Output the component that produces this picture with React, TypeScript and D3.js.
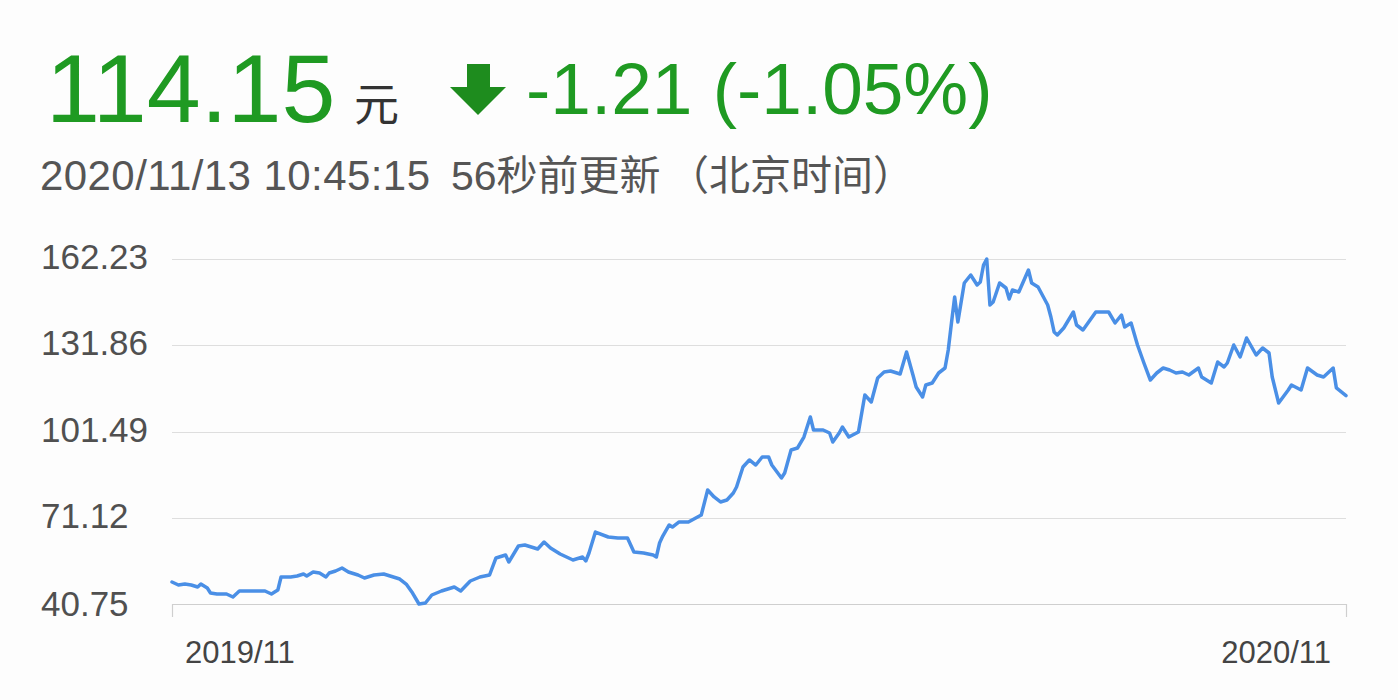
import React, { useEffect, useRef } from "react";
import * as d3 from "d3";

// one year of closing prices, sampled off the chart
const startDate = new Date(2019, 10, 13);
const endDate = new Date(2020, 10, 13);

const dayOffsets = [
  0, 2, 4, 6, 8, 9, 11, 12, 14, 17,
  19, 21, 25, 29, 31, 33, 34, 37, 39, 41,
  42, 44, 46, 48, 49, 51, 53, 55, 58, 60,
  63, 66, 69, 71, 73, 75, 77, 79, 81, 84,
  88, 90, 93, 96, 99, 101, 104, 105, 108, 110,
  112, 114, 116, 118, 121, 125, 128, 129, 130, 132,
  136, 139, 142, 144, 147, 150, 151, 152, 153, 155,
  156, 158, 161, 165, 167, 169, 171, 173, 175, 176,
  178, 180, 182, 184, 186, 187, 190, 191, 193, 195,
  197, 199, 200, 203, 205, 206, 208, 209, 211, 214,
  216, 218, 220, 222, 224, 227, 229, 231, 232, 234,
  235, 237, 239, 241, 242, 243, 244, 245, 247, 249,
  251, 252, 253, 254, 255, 256, 258, 260, 261, 262,
  264, 267, 268, 270, 273, 274, 275, 276, 278, 281,
  282, 284, 288, 292, 294, 296, 297, 299, 301, 303,
  305, 307, 309, 311, 313, 315, 317, 320, 321, 324,
  326, 328, 329, 331, 333, 335, 338, 340, 342, 343,
  345, 348, 349, 352, 354, 357, 359, 362, 363, 366,
];

const prices = [
  48.5, 47.44, 47.79, 47.44, 46.74, 47.79, 46.38, 44.62, 44.27, 44.27,
  43.21, 45.33, 45.33, 45.33, 44.27, 45.68, 50.26, 50.26, 50.61, 51.31,
  50.61, 52.02, 51.67, 50.26, 51.67, 52.37, 53.43, 52.02, 50.96, 49.91,
  50.96, 51.31, 50.26, 49.55, 47.79, 44.62, 40.75, 41.1, 43.92, 45.33,
  46.74, 45.33, 48.85, 50.26, 50.96, 56.95, 58.0, 55.54, 61.17, 61.53,
  60.82, 60.12, 62.58, 60.47, 58.36, 56.24, 57.3, 55.89, 58.71, 66.1,
  64.34, 63.99, 63.99, 59.06, 58.71, 58.0, 57.3, 62.23, 64.69, 68.57,
  67.86, 69.62, 69.62, 72.09, 80.89, 78.43, 76.67, 77.37, 79.84, 81.95,
  88.99, 91.46, 89.69, 92.51, 92.51, 89.69, 85.12, 86.88, 94.98, 95.68,
  99.55, 106.6, 102.02, 102.02, 100.96, 97.79, 100.96, 103.08, 99.55, 101.31,
  114.34, 111.88, 120.33, 122.44, 122.79, 121.74, 129.48, 121.39, 117.16, 113.64,
  117.86, 118.57, 122.09, 123.85, 130.19, 139.7, 148.85, 140.05, 153.78, 156.6,
  153.08, 154.13, 160.12, 162.23, 146.03, 147.09, 153.78, 152.02, 148.15, 151.32,
  150.61, 158.36, 153.78, 152.37, 146.03, 141.81, 136.53, 135.47, 137.94, 143.57,
  138.99, 137.23, 143.57, 143.57, 139.7, 142.51, 138.29, 139.7, 131.95, 125.61,
  119.62, 122.09, 123.85, 123.15, 122.09, 122.44, 121.39, 123.85, 120.68, 118.57,
  125.96, 124.2, 125.61, 131.95, 127.72, 134.41, 128.43, 130.89, 129.13, 120.68,
  111.53, 116.1, 117.86, 116.1, 123.85, 121.39, 120.68, 123.85, 116.81, 114.15,
];

const yTicks = [40.75, 71.12, 101.49, 131.86, 162.23];
const xTickLabels = ["2019/11", "2020/11"];

const lastPrice = "114.15";
const currency = "元";
const change = "-1.21 (-1.05%)";
const timestamp = "2020/11/13 10:45:15";
const updated = "56秒前更新";
const timezone = "（北京时间）";

const FONT = "'Liberation Sans', Arial, 'Noto Sans CJK SC', sans-serif";
const GREEN = "#1f9a22";

const App: React.FC = () => {
  const svgRef = useRef<SVGSVGElement | null>(null);

  useEffect(() => {
    const width = 1398;
    const height = 700;
    const marginTop = 259;
    const marginRight = 52;
    const marginBottom = 96;
    const marginLeft = 172;

    const svg = d3.select(svgRef.current);
    svg.selectAll("*").remove();
    svg
      .attr("width", width)
      .attr("height", height)
      .attr("viewBox", [0, 0, width, height])
      .style("font-family", FONT);

    svg.append("rect").attr("width", width).attr("height", height).attr("fill", "#fdfdfd");

    const data = dayOffsets.map((d, i) => ({
      date: d3.timeDay.offset(startDate, d),
      value: prices[i],
    }));

    const x = d3
      .scaleTime()
      .domain([startDate, endDate])
      .range([marginLeft, width - marginRight]);

    const y = d3
      .scaleLinear()
      .domain([yTicks[0], yTicks[yTicks.length - 1]])
      .range([height - marginBottom, marginTop]);

    // header
    svg
      .append("text")
      .attr("x", 46)
      .attr("y", 122)
      .attr("fill", GREEN)
      .attr("font-size", 97)
      .text(lastPrice);
    svg
      .append("text")
      .attr("x", 354)
      .attr("y", 121)
      .attr("fill", "#333")
      .attr("font-size", 45)
      .text(currency);
    svg
      .append("path")
      .attr("d", "M467,64 H490 V87 H506 L478,115 L450,87 H467 Z")
      .attr("fill", "#1e8c1e");
    svg
      .append("text")
      .attr("x", 526)
      .attr("y", 114)
      .attr("fill", GREEN)
      .attr("font-size", 73)
      .text(change);

    svg
      .append("text")
      .attr("x", 40)
      .attr("y", 190)
      .attr("fill", "#555")
      .attr("font-size", 42)
      .attr("textLength", 390)
      .text(timestamp);
    svg
      .append("text")
      .attr("x", 451)
      .attr("y", 190)
      .attr("fill", "#555")
      .attr("font-size", 41)
      .text(updated);
    svg
      .append("text")
      .attr("x", 668)
      .attr("y", 190)
      .attr("fill", "#555")
      .attr("font-size", 41)
      .text(timezone);

    // grid + y labels
    const gy = svg.append("g");
    gy.selectAll("line")
      .data(yTicks)
      .join("line")
      .attr("x1", marginLeft)
      .attr("x2", width - marginRight)
      .attr("y1", (d) => Math.round(y(d)) + 0.5)
      .attr("y2", (d) => Math.round(y(d)) + 0.5)
      .attr("stroke", (d, i) => (i === 0 ? "#cfcfcf" : "#dedede"))
      .attr("stroke-width", 1.2);
    gy.selectAll("text")
      .data(yTicks)
      .join("text")
      .attr("x", 41)
      .attr("y", (d, i) => y(d) + (i === 0 ? 12 : 10))
      .attr("fill", "#505050")
      .attr("font-size", 35)
      .text((d) => d.toFixed(2));

    // x axis end ticks + labels
    const xTicks = [startDate, endDate];
    svg
      .append("g")
      .selectAll("line")
      .data(xTicks)
      .join("line")
      .attr("x1", (d) => Math.round(x(d)) + 0.5)
      .attr("x2", (d) => Math.round(x(d)) + 0.5)
      .attr("y1", y(yTicks[0]))
      .attr("y2", y(yTicks[0]) + 13)
      .attr("stroke", "#cfcfcf")
      .attr("stroke-width", 1.2);
    svg
      .append("g")
      .selectAll("text")
      .data(xTicks)
      .join("text")
      .attr("x", (d, i) => (i === 0 ? x(d) + 13 : x(d) - 15))
      .attr("y", 663)
      .attr("text-anchor", (d, i) => (i === 0 ? "start" : "end"))
      .attr("fill", "#444")
      .attr("font-size", 31)
      .text((d, i) => xTickLabels[i]);

    // price line
    const line = d3
      .line<{ date: Date; value: number }>()
      .x((d) => x(d.date))
      .y((d) => y(d.value));

    svg
      .append("path")
      .datum(data)
      .attr("d", line)
      .attr("fill", "none")
      .attr("stroke", "#4a8fe6")
      .attr("stroke-width", 3.5)
      .attr("stroke-linejoin", "round")
      .attr("stroke-linecap", "round");
  }, []);

  return (
    <div style={{ position: "absolute", left: 0, top: 0 }}>
      <svg ref={svgRef}></svg>
    </div>
  );
};

export default App;
